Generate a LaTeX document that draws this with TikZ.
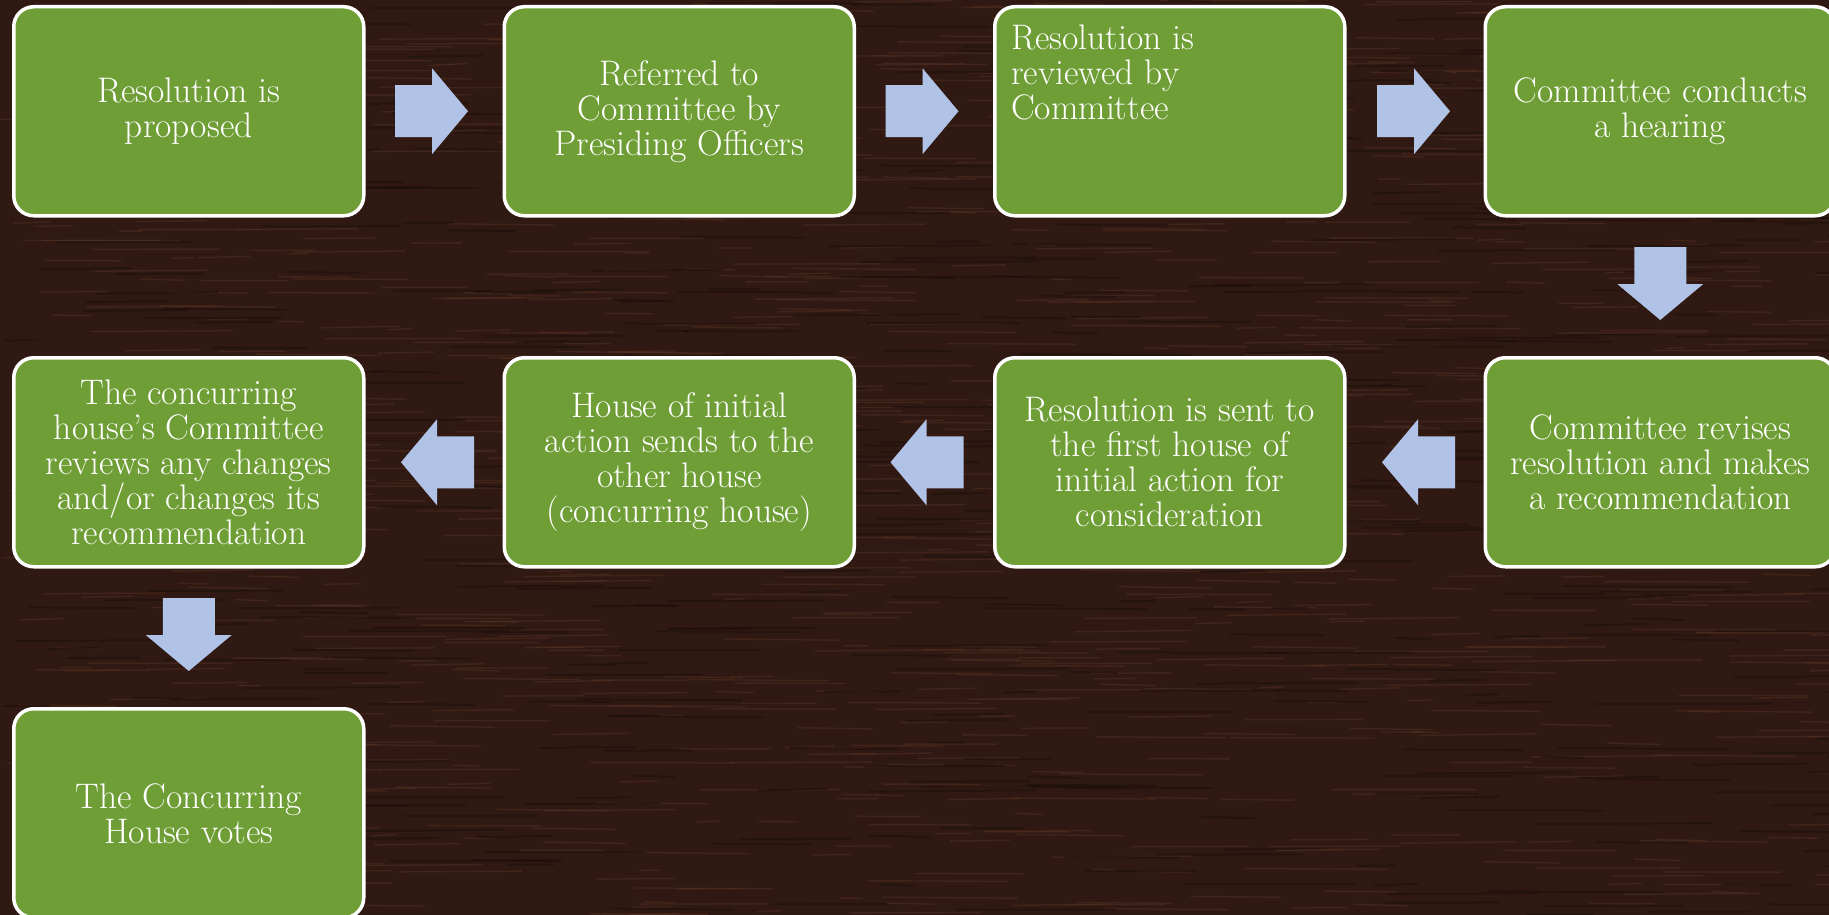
\documentclass[tikz,border=0pt]{standalone}
\usetikzlibrary{calc}
\definecolor{wood}{RGB}{48,25,18}
\definecolor{woodlight}{RGB}{98,58,42}
\definecolor{wooddark}{RGB}{24,12,9}
\definecolor{boxgreen}{RGB}{111,158,54}
\definecolor{arrowblue}{RGB}{176,194,230}
\tikzset{
  stepbox/.style={draw=white, line width=3.5pt, fill=boxgreen, rounded corners=20pt,
    minimum width=350pt, minimum height=209pt, text=white, align=center,
    font=\fontsize{35.5}{35}\selectfont, inner sep=0pt},
  steptext/.style={text=white, align=left, font=\fontsize{35.5}{35}\selectfont, inner sep=0pt},
  blockarrow/.style={fill=arrowblue},
}
\newcommand{\arrowRight}[1]{\fill[blockarrow] ($(#1)+(0,-26)$) -- ++(37,0) -- ++(0,-17) -- ++(36,43) -- ++(-36,43) -- ++(0,-17) -- ++(-37,0) -- cycle;}
\newcommand{\arrowLeft}[1]{\fill[blockarrow] ($(#1)+(0,-26)$) -- ++(-37,0) -- ++(0,-17) -- ++(-36,43) -- ++(36,43) -- ++(0,-17) -- ++(37,0) -- cycle;}
\newcommand{\arrowDown}[1]{\fill[blockarrow] ($(#1)+(-26,0)$) -- ++(0,37) -- ++(-17,0) -- ++(43,36) -- ++(43,-36) -- ++(-17,0) -- ++(0,-37) -- cycle;}
\begin{document}
\begin{tikzpicture}[x=1pt,y=-1pt]
\useasboundingbox (0,0) rectangle (1829,915);
\clip (0,0) rectangle (1829,915);
% wood background
\fill[wood] (0,0) rectangle (1829,915);
\pgfmathsetseed{7}
\foreach \i in {1,...,1000} {
  \pgfmathsetmacro\gx{rnd*1829}
  \pgfmathsetmacro\gy{rnd*915}
  \pgfmathsetmacro\gl{20+rnd*130}
  \draw[woodlight, opacity=0.35, line width=1.4pt] (\gx,\gy) -- ++(\gl,rnd*3-1.5);
}
\foreach \i in {1,...,500} {
  \pgfmathsetmacro\gx{rnd*1829}
  \pgfmathsetmacro\gy{rnd*915}
  \pgfmathsetmacro\gl{30+rnd*150}
  \draw[wooddark, opacity=0.45, line width=2pt] (\gx,\gy) -- ++(\gl,rnd*3-1.5);
}
% boxes
\node[stepbox] (b1) at (188.75,111.25) {Resolution is\\proposed};
\node[stepbox] (b2) at (679.25,111.25) {Referred to\\Committee by\\Presiding Officers};
\node[stepbox] (b3) at (1169.75,111.25) {};
\node[steptext, anchor=north west] (t3) at ($(b3.north west)+(18,20)$) {Resolution is\\reviewed by\\Committee};
\node[stepbox] (b4) at (1660.25,111.25) {Committee conducts\\a hearing};
\node[stepbox] (b5) at (1660.25,462.25) {Committee revises\\resolution and makes\\a recommendation};
\node[stepbox] (b6) at (1169.75,462.25) {Resolution is sent to\\the first house of\\initial action for\\consideration};
\node[stepbox] (b7) at (679.25,462.25) {House of initial\\action sends to the\\other house\\(concurring house)};
\node[stepbox] (b8) at (188.75,462.25) {The concurring\\house’s Committee\\reviews any changes\\and/or changes its\\recommendation};
\node[stepbox] (b9) at (188.75,813.25) {The Concurring\\House votes};
% arrows
\coordinate (a1) at ($(b1.east)+(29.5,0)$);
\coordinate (a2) at ($(b2.east)+(29.5,0)$);
\coordinate (a3) at ($(b3.east)+(30.5,0)$);
\coordinate (a4) at ($(b4.south)+(0,29.5)$);
\coordinate (a5) at ($(b5.west)+(-28.5,0)$);
\coordinate (a6) at ($(b6.west)+(-29.5,0)$);
\coordinate (a7) at ($(b7.west)+(-28.5,0)$);
\coordinate (a8) at ($(b8.south)+(0,29.5)$);
\arrowRight{a1}
\arrowRight{a2}
\arrowRight{a3}
\arrowDown{a4}
\arrowLeft{a5}
\arrowLeft{a6}
\arrowLeft{a7}
\arrowDown{a8}
\end{tikzpicture}
\end{document}
